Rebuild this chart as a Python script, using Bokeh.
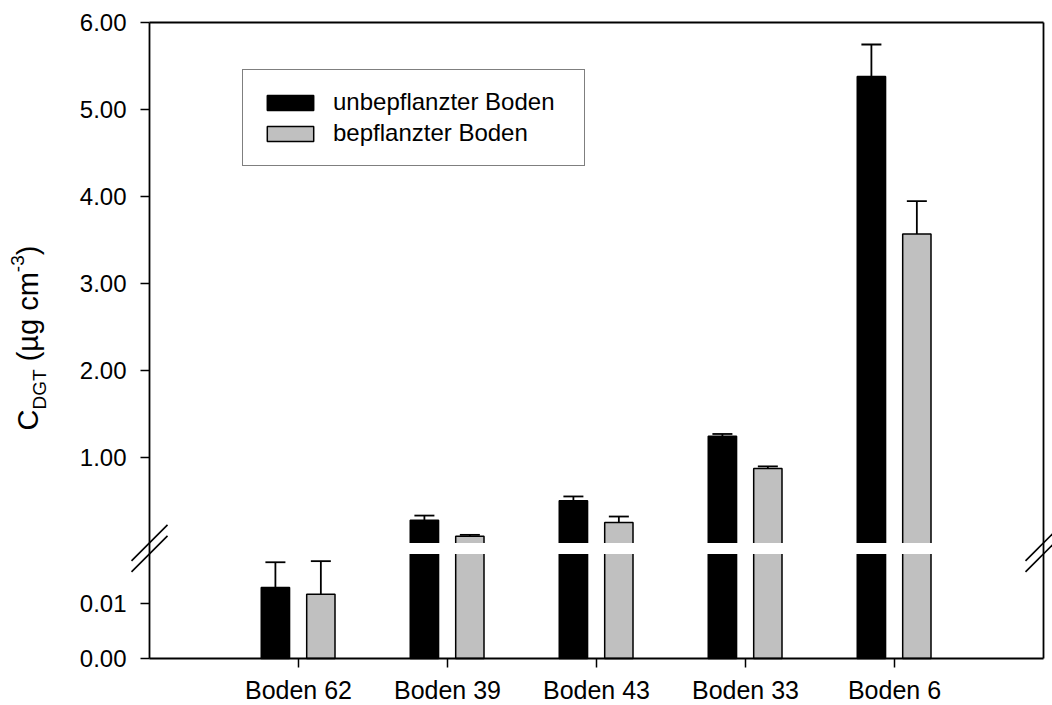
import math
from bokeh.plotting import figure
from bokeh.models import (Range1d, FixedTicker, Whisker, TeeHead, ColumnDataSource,
                          Legend, LegendItem, BoxAnnotation, Arrow, Label, LinearAxis)
from bokeh.embed import file_html
from bokeh.resources import INLINE

# ---------------- data ----------------
categories = ["Boden 62", "Boden 39", "Boden 43", "Boden 33", "Boden 6"]
unbepflanzt = [0.0129, 0.273, 0.496, 1.238, 5.378]
unbepflanzt_err = [0.0046, 0.053, 0.050, 0.027, 0.369]
bepflanzt = [0.0117, 0.089, 0.246, 0.869, 3.567]
bepflanzt_err = [0.0060, 0.015, 0.069, 0.023, 0.378]
series_labels = ["unbepflanzter Boden", "bepflanzter Boden"]
upper_ticks = [1.0, 2.0, 3.0, 4.0, 5.0, 6.0]
lower_ticks = [0.0, 0.01]

# ---------------- layout / style constants ----------------
FONT = "Liberation Sans"
W, H = 1052, 705
AX_L, AX_R = 149, 1043      # pixel columns of left / right axis
AX_T, AX_B = 22, 658        # pixel rows of top of axis / zero line
UP_MAX = 6.0
UP_PX = 86.9                # px per unit, upper segment
LOW_PX = 5500.0             # px per unit, lower segment
LOW_MAX = 0.0192            # top of lower segment
X_START, X_END = -1.0, 5.0
X_PX = (AX_R - AX_L) / (X_END - X_START)
OFF_A, OFF_B, BAR_W = -0.155, 0.150, 0.19
GRAY = "#c0c0c0"

x_rng = Range1d(X_START - AX_L / X_PX, X_END + (W - AX_R) / X_PX)
y_main = Range1d(UP_MAX - (H - AX_T) / UP_PX, UP_MAX + AX_T / UP_PX)
y_low = Range1d((AX_B - H) / LOW_PX, AX_B / LOW_PX)


def main_from_low(v):
    return y_main.start + (v - y_low.start) * (y_main.end - y_main.start) / (y_low.end - y_low.start)


def main_from_px(py):
    return y_main.end - py / UP_PX


Y_ZERO = main_from_low(0.0)

p = figure(width=W, height=H, x_range=x_rng, y_range=y_main,
           output_backend="svg", toolbar_location=None, title=None,
           min_border_left=0, min_border_right=0, min_border_top=0, min_border_bottom=0)
p.extra_y_ranges = {"low": y_low}
p.xgrid.visible = False
p.ygrid.visible = False
p.outline_line_color = None
p.background_fill_color = "white"
p.border_fill_color = "white"

x_idx = list(range(len(categories)))


def draw_series(vals, errs, off, fill):
    xs = [i + off for i in x_idx]
    low_src = ColumnDataSource(dict(x=xs, top=[min(v, LOW_MAX) for v in vals]))
    r_low = p.vbar(x="x", top="top", bottom=0, width=BAR_W, source=low_src,
                   y_range_name="low", fill_color=fill, line_color="black", line_width=1.5)
    up_k = [k for k, v in enumerate(vals) if v > LOW_MAX]
    lo_k = [k for k, v in enumerate(vals) if v <= LOW_MAX]
    up_src = ColumnDataSource(dict(x=[xs[k] for k in up_k], top=[vals[k] for k in up_k]))
    p.vbar(x="x", top="top", bottom=0, width=BAR_W, source=up_src,
           fill_color=fill, line_color="black", line_width=1.5)
    for ks, rng in ((up_k, "default"), (lo_k, "low")):
        src = ColumnDataSource(dict(x=[xs[k] for k in ks],
                                    lo=[vals[k] for k in ks],
                                    hi=[vals[k] + errs[k] for k in ks]))
        w = Whisker(source=src, base="x", lower="lo", upper="hi", dimension="height",
                    lower_head=None,
                    upper_head=TeeHead(size=20, line_width=1.8, line_color="black"),
                    line_width=1.8, line_color="black", y_range_name=rng, level="overlay")
        p.add_layout(w)
    return r_low


r_a = draw_series(unbepflanzt, unbepflanzt_err, OFF_A, "black")
r_b = draw_series(bepflanzt, bepflanzt_err, OFF_B, GRAY)

# white band of the axis break through the bars
low_top_main = main_from_low(LOW_MAX)
band = BoxAnnotation(left=X_START + 0.012, right=X_END - 0.012,
                     bottom=low_top_main - 1.0 / UP_PX, top=1.0 / UP_PX,
                     fill_color="white", fill_alpha=1.0, line_color=None, level="overlay")
p.add_layout(band)

# break marks on both axes
dx = 18.0 / X_PX
dy = 18.0 / UP_PX
for xa in (X_START, X_END):
    for gy in (1.0 / UP_PX, low_top_main - 1.0 / UP_PX):
        p.add_layout(Arrow(end=None, x_start=xa - dx, y_start=gy - dy,
                           x_end=xa + dx, y_end=gy + dy,
                           line_color="black", line_width=1.6, level="overlay"))

# ---------------- axes (fixed inside the canvas) ----------------
y_ticks = [main_from_low(v) for v in lower_ticks] + upper_ticks
y_over = {main_from_low(v): f"{v:.2f}" for v in lower_ticks}
y_over.update({t: f"{t:.2f}" for t in upper_ticks})
yax = p.yaxis[0]
yax.fixed_location = X_START
yax.bounds = (Y_ZERO, UP_MAX)
yax.ticker = FixedTicker(ticks=y_ticks, minor_ticks=[])
yax.major_label_overrides = y_over
yax.major_label_standoff = 14
yax.major_label_text_font_size = "24px"

xax = p.xaxis[0]
xax.fixed_location = Y_ZERO
xax.bounds = (X_START, X_END)
xax.ticker = FixedTicker(ticks=x_idx, minor_ticks=[])
xax.major_label_overrides = {i: c for i, c in zip(x_idx, categories)}
xax.major_label_standoff = 8
xax.major_label_text_font_size = "25px"

rax = LinearAxis(fixed_location=X_END, bounds=(Y_ZERO, UP_MAX),
                 ticker=FixedTicker(ticks=[], minor_ticks=[]))
tax = LinearAxis(fixed_location=UP_MAX, bounds=(X_START, X_END),
                 ticker=FixedTicker(ticks=[], minor_ticks=[]))
p.add_layout(rax, "right")
p.add_layout(tax, "above")

for ax in (xax, yax, rax, tax):
    ax.axis_line_width = 1.8
    ax.axis_line_color = "black"
    ax.major_tick_line_width = 1.5
    ax.major_tick_line_color = "black"
    ax.major_tick_out = 9
    ax.major_tick_in = 0
    ax.minor_tick_out = 0
    ax.minor_tick_in = 0
    ax.major_label_text_font = FONT
    ax.major_label_text_color = "black"

# ---------------- y axis title (rotated, with sub/superscript) ----------------
ADV = {"C": .722, "D": .722, "G": .778, "T": .611, " ": .278, "(": .333, "µ": .576,
       "g": .556, "c": .5, "m": .833, "-": .333, "3": .556, ")": .333}
# (text, font px, baseline shift px, gap before in px)
pieces = [("C", 29, 0, 0), ("DGT", 19, 12, 0), ("(µg cm", 29, 0, 8),
          ("-3", 19, -10, 0), (")", 29, 0, 0)]
BASE_X = 27
total = sum(sum(ADV[ch] for ch in t) * s + g for t, s, _, g in pieces)
center_y = 337.5  # px from top of the canvas
pos = center_y + total / 2.0
for t, s, shift, gap in pieces:
    pos -= gap
    p.add_layout(Label(x=BASE_X + shift, y=main_from_px(pos), x_units="screen", y_units="data",
                       text=t, angle=math.pi / 2, text_font=FONT,
                       text_font_size=f"{s}px", text_color="black",
                       text_align="left", text_baseline="alphabetic"))
    pos -= sum(ADV[ch] for ch in t) * s

# ---------------- legend ----------------
legend = Legend(items=[LegendItem(label=series_labels[0], renderers=[r_a]),
                       LegendItem(label=series_labels[1], renderers=[r_b])],
                location=(242, H - 71 - 95),
                glyph_width=58, glyph_height=19, label_standoff=14,
                padding=18, spacing=3, margin=0, label_width=233,
                label_text_font=FONT, label_text_font_size="24px",
                label_text_color="black",
                border_line_color="black", border_line_width=1.5,
                background_fill_color="white", background_fill_alpha=1.0)
p.add_layout(legend)

open("out.html", "w").write(file_html(p, INLINE))
